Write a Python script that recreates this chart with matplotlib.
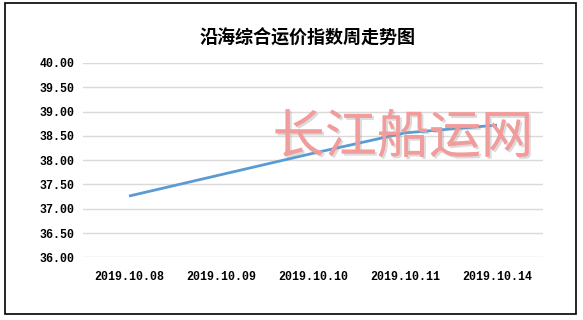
import matplotlib
matplotlib.use('Agg')
import matplotlib.pyplot as plt
import matplotlib.patheffects as pe
from matplotlib.patches import Rectangle

plt.rcParams['font.family'] = ['Noto Sans CJK SC', 'DejaVu Sans']

# 数据
TITLE = '沿海综合运价指数周走势图'
WATERMARK = '长江船运网'
dates = ['2019.10.08', '2019.10.09', '2019.10.10', '2019.10.11', '2019.10.14']
values = [37.26, 37.70, 38.14, 38.56, 38.72]
y_ticks = [36.0, 36.5, 37.0, 37.5, 38.0, 38.5, 39.0, 39.5, 40.0]

fig = plt.figure(figsize=(5.83, 3.20), dpi=100)
ax = fig.add_axes([83 / 583, 1 - 257.3 / 320, 460 / 583, (257.3 - 62.9) / 320])

x = list(range(len(dates)))
ax.plot(x, values, color='#5B9BD5', linewidth=2.0, solid_capstyle='butt', zorder=3)

ax.set_xlim(-0.5, len(dates) - 0.5)
ax.set_ylim(36, 40)
ax.set_yticks(y_ticks)
ax.set_yticklabels([f'{v:.2f}' for v in y_ticks])
ax.set_xticks(x)
ax.set_xticklabels(dates)
for lab in ax.get_xticklabels() + ax.get_yticklabels():
    lab.set_family(['Liberation Mono', 'DejaVu Sans Mono'])
    lab.set_fontweight('bold')
    lab.set_fontsize(8.4)
ax.tick_params(axis='both', length=0)
ax.tick_params(axis='y', pad=6)
ax.tick_params(axis='x', pad=10)

ax.grid(axis='y', color='#D9D9D9', linewidth=1.0)
ax.set_axisbelow(True)
for s in ax.spines.values():
    s.set_visible(False)

# 标题
fig.text(308 / 583, 1 - 38 / 320, TITLE, ha='center', va='center',
         fontsize=13, fontweight='bold', color='#000000')

# 水印
fig.text(403 / 583, 1 - 138 / 320, WATERMARK, ha='center', va='center',
         fontsize=37.5, color='#F39A9A', alpha=0.85, zorder=5,
         path_effects=[pe.withSimplePatchShadow(offset=(1.5, -1.5), shadow_rgbFace='#999999', alpha=0.35),
                       pe.Normal()])

# 外框
fig.patches.append(Rectangle((5 / 583, 1 - 314 / 320), 571 / 583, 311 / 320,
                             transform=fig.transFigure, fill=False,
                             edgecolor='black', linewidth=1.2))

fig.savefig('out.png', dpi=100)
